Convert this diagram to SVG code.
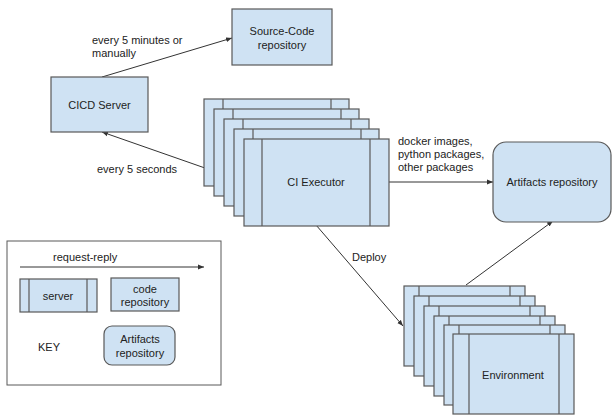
<svg xmlns="http://www.w3.org/2000/svg" width="613" height="418" viewBox="0 0 613 418">
<defs>
<marker id="ah" viewBox="0 0 10 10" refX="10" refY="5" markerWidth="6" markerHeight="6" orient="auto" markerUnits="userSpaceOnUse"><path d="M0,1 L10,5 L0,9 z" fill="#333"/></marker>
</defs>
<style>
.b{fill:#cfe2f3;stroke:#595959;stroke-width:1.2}
.l{stroke:#595959;stroke-width:1.2;fill:none}
.c{stroke:#333;stroke-width:1;fill:none;marker-end:url(#ah)}
text{font-family:"Liberation Sans",Arial,sans-serif;font-size:11px;fill:#222}
.m{text-anchor:middle}
</style>
<rect width="613" height="418" fill="#fff"/>
<g id="connectors">
<line class="c" x1="102" y1="77" x2="232" y2="38"/>
<line class="c" x1="245" y1="182" x2="102" y2="132"/>
<line class="c" x1="389" y1="182" x2="493" y2="182"/>
<line class="c" x1="316" y1="225" x2="403" y2="326"/>
<line class="c" x1="466" y1="285" x2="553" y2="221"/>
<text x="92" y="44">every 5 minutes or</text>
<text x="92" y="57">manually</text>
<text x="97" y="173">every 5 seconds</text>
<text x="398" y="145">docker images,</text>
<text x="398" y="158">python packages,</text>
<text x="398" y="171">other packages</text>
<text x="352" y="261">Deploy</text>
</g>
<g id="source-code">
<rect class="b" x="232" y="9" width="100" height="56"/>
<text class="m" x="282" y="35">Source-Code</text>
<text class="m" x="282" y="49">repository</text>
</g>
<g id="cicd-server">
<rect class="b" x="51" y="77" width="97" height="55"/>
<text class="m" x="99.5" y="109">CICD Server</text>
</g>
<g id="ci-executor">
<rect class="b" x="204" y="99" width="145" height="87"/>
<line class="l" x1="223" y1="99" x2="223" y2="186"/><line class="l" x1="331" y1="99" x2="331" y2="186"/>
<rect class="b" x="214" y="109" width="145" height="87"/>
<line class="l" x1="233" y1="109" x2="233" y2="196"/><line class="l" x1="341" y1="109" x2="341" y2="196"/>
<rect class="b" x="224" y="119" width="145" height="87"/>
<line class="l" x1="243" y1="119" x2="243" y2="206"/><line class="l" x1="351" y1="119" x2="351" y2="206"/>
<rect class="b" x="234" y="129" width="145" height="87"/>
<line class="l" x1="253" y1="129" x2="253" y2="216"/><line class="l" x1="361" y1="129" x2="361" y2="216"/>
<rect class="b" x="244" y="139" width="145" height="87"/>
<line class="l" x1="262" y1="139" x2="262" y2="226"/><line class="l" x1="370" y1="139" x2="370" y2="226"/>
<text class="m" x="316" y="186">CI Executor</text>
</g>
<g id="artifacts">
<rect class="b" x="493" y="142" width="118" height="80" rx="13"/>
<text class="m" x="552" y="186">Artifacts repository</text>
</g>
<g id="environment">
<rect class="b" x="404" y="286" width="121" height="80"/>
<line class="l" x1="419" y1="286" x2="419" y2="366"/><line class="l" x1="510" y1="286" x2="510" y2="366"/>
<rect class="b" x="414" y="296" width="121" height="80"/>
<line class="l" x1="429" y1="296" x2="429" y2="376"/><line class="l" x1="520" y1="296" x2="520" y2="376"/>
<rect class="b" x="424" y="306" width="121" height="80"/>
<line class="l" x1="439" y1="306" x2="439" y2="386"/><line class="l" x1="530" y1="306" x2="530" y2="386"/>
<rect class="b" x="434" y="316" width="121" height="80"/>
<line class="l" x1="449" y1="316" x2="449" y2="396"/><line class="l" x1="540" y1="316" x2="540" y2="396"/>
<rect class="b" x="444" y="325" width="121" height="80"/>
<line class="l" x1="459" y1="325" x2="459" y2="405"/><line class="l" x1="550" y1="325" x2="550" y2="405"/>
<rect class="b" x="453" y="334" width="121" height="80"/>
<line class="l" x1="469" y1="334" x2="469" y2="414"/><line class="l" x1="559" y1="334" x2="559" y2="414"/>
<text class="m" x="513" y="379">Environment</text>
</g>
<g id="key">
<rect x="7" y="241" width="214" height="144" fill="#fff" stroke="#595959" stroke-width="1"/>
<text x="53" y="261">request-reply</text>
<line class="c" x1="20" y1="267" x2="204" y2="267"/>
<rect class="b" x="20" y="279" width="77" height="33"/>
<line class="l" x1="29" y1="279" x2="29" y2="312"/><line class="l" x1="87" y1="279" x2="87" y2="312"/>
<text class="m" x="58" y="300">server</text>
<rect class="b" x="111" y="278" width="68" height="33"/>
<text class="m" x="145" y="293">code</text>
<text class="m" x="145" y="306">repository</text>
<rect class="b" x="104" y="326" width="71" height="39" rx="8"/>
<text class="m" x="140" y="343">Artifacts</text>
<text class="m" x="140" y="357">repository</text>
<text x="38" y="351">KEY</text>
</g>
</svg>
